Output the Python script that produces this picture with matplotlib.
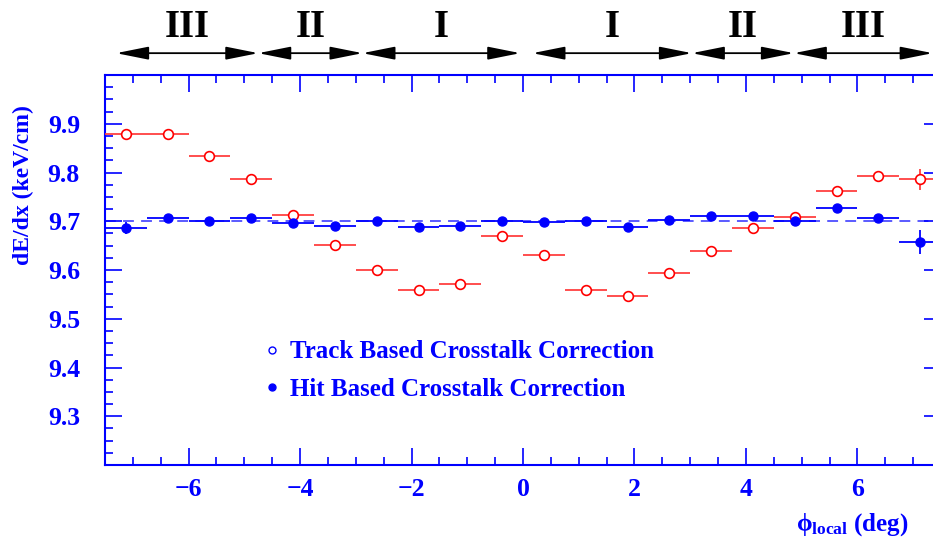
import numpy as np
import matplotlib
matplotlib.use("Agg")
import matplotlib.pyplot as plt
from matplotlib.lines import Line2D

plt.rcParams['font.family'] = ['Liberation Serif', 'DejaVu Serif']
plt.rcParams['font.weight'] = 'bold'
plt.rcParams['mathtext.fontset'] = 'custom'
plt.rcParams['mathtext.rm'] = 'Liberation Serif:bold'
plt.rcParams['mathtext.bf'] = 'Liberation Serif:bold'
plt.rcParams['mathtext.it'] = 'Liberation Serif'

# bin centres (deg), 20 bins of 0.75 deg
phi = np.arange(-7.125, 7.2, 0.75)
half_width = 0.375

# track based crosstalk correction (open circles)
track = [9.878, 9.880, 9.834, 9.786, 9.713, 9.651, 9.600, 9.559, 9.572, 9.670,
         9.630, 9.559, 9.546, 9.594, 9.640, 9.687, 9.709, 9.762, 9.793, 9.786]
track_err = [0.012, 0.004, 0.003, 0.003, 0.003, 0.003, 0.003, 0.003, 0.003, 0.004,
             0.003, 0.003, 0.003, 0.003, 0.003, 0.003, 0.004, 0.004, 0.004, 0.022]

# hit based crosstalk correction (filled circles)
hit = [9.686, 9.707, 9.700, 9.707, 9.697, 9.690, 9.700, 9.688, 9.690, 9.700,
       9.699, 9.700, 9.689, 9.703, 9.710, 9.711, 9.701, 9.727, 9.707, 9.657]
hit_err = [0.012, 0.004, 0.003, 0.003, 0.003, 0.003, 0.003, 0.003, 0.003, 0.003,
           0.003, 0.003, 0.003, 0.003, 0.003, 0.003, 0.003, 0.004, 0.004, 0.025]

ref_level = 9.70

# regions on top: (start, end, label)
regions = [(-7.3, -4.75, 'III'), (-4.75, -2.88, 'II'), (-2.88, -0.05, 'I'),
           (0.17, 3.03, 'I'), (3.03, 4.86, 'II'), (4.86, 7.35, 'III')]

blue = '#0000ff'
red = '#ff0000'

fig = plt.figure(figsize=(9.33, 5.42), dpi=100)
ax = fig.add_axes([105 / 933, 1 - 465 / 542, 836 / 933, 390 / 542])

ax.axhline(ref_level, color='#4d4dff', lw=1.3, ls=(0, (6, 4)), zorder=1)

ax.errorbar(phi, track, xerr=half_width, yerr=track_err, fmt='o', color=red,
            ecolor='#ff4040', elinewidth=1.3, capsize=0, ms=7,
            mfc='white', mec=red, mew=1.2, zorder=3)
ax.errorbar(phi, hit, xerr=half_width, yerr=hit_err, fmt='o', color=blue,
            ecolor=blue, elinewidth=1.3, capsize=0, ms=6.5,
            mfc=blue, mec=blue, zorder=4)

ax.set_xlim(-7.5, 7.5)
ax.set_ylim(9.2, 10.0)
ax.set_xticks([-6, -4, -2, 0, 2, 4, 6])
ax.set_xticks(np.arange(-7.5, 7.51, 0.5), minor=True)
ax.set_yticks([9.3, 9.4, 9.5, 9.6, 9.7, 9.8, 9.9])
ax.set_yticks(np.arange(9.2, 10.001, 0.025), minor=True)
ax.set_xticklabels(['\u22126', '\u22124', '\u22122', '0', '2', '4', '6'])

for s in ax.spines.values():
    s.set_color(blue)
    s.set_linewidth(1.5)
ax.tick_params(which='both', direction='in', colors=blue, top=True, right=True,
               labelsize=18.5)
ax.tick_params(which='major', length=12, width=1.2)
ax.tick_params(which='minor', length=6, width=1.2)
ax.tick_params(axis='y', pad=18)
ax.tick_params(axis='x', pad=9)
for lab in ax.get_xticklabels() + ax.get_yticklabels():
    lab.set_fontweight('bold')
    lab.set_color(blue)

fig.text(23 / 933, 1 - 185 / 542, 'dE/dx (keV/cm)', rotation=90, color=blue,
         fontsize=17, fontweight='bold', ha='center', va='center')
fig.text(909 / 933, 1 - 525 / 542, r'$\phi_{\mathbf{local}}$ (deg)', color=blue,
         fontsize=18, fontweight='bold', ha='right', va='center')

# region arrows and labels
trans = ax.get_xaxis_transform()
for x0, x1, lab in regions:
    ax.annotate('', xy=(x1, 1.056), xytext=(x0, 1.056), xycoords=trans,
                textcoords=trans, annotation_clip=False,
                arrowprops=dict(arrowstyle='<|-|>,head_length=1.1,head_width=0.22',
                                color='black', lw=1.3, mutation_scale=18,
                                shrinkA=0, shrinkB=0))
    ax.text((x0 + x1) / 2, 1.097, lab, transform=trans, ha='center', va='baseline',
            fontsize=28, fontweight='bold', color='black', clip_on=False)

handles = [Line2D([], [], ls='none', marker='o', ms=5, mfc='white', mec=blue, mew=1),
           Line2D([], [], ls='none', marker='o', ms=5, mfc=blue, mec=blue)]
leg = ax.legend(handles, ['Track Based Crosstalk Correction',
                          'Hit Based Crosstalk Correction'],
                loc='upper left', bbox_to_anchor=(0.164, 0.377), frameon=False,
                handlelength=0.6, handletextpad=0.42, labelspacing=0.58,
                prop={'weight': 'bold', 'size': 18})
for t in leg.get_texts():
    t.set_color(blue)

fig.savefig('out.png', dpi=100)
